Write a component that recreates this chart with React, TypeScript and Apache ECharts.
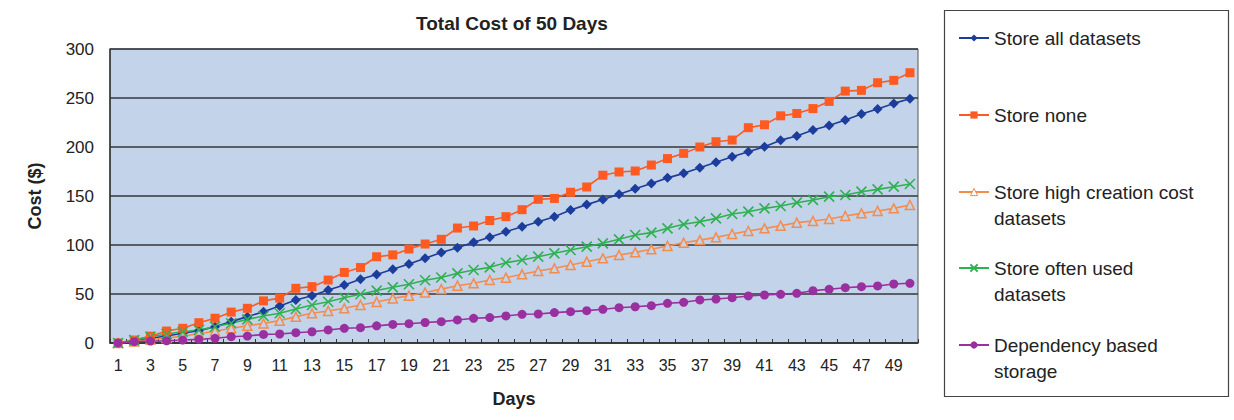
import React, { useEffect, useRef } from "react";
import * as echarts from "echarts";

// Day numbers along the x axis
const days = [
  "1", "2", "3", "4", "5", "6", "7", "8", "9", "10",
  "11", "12", "13", "14", "15", "16", "17", "18", "19", "20",
  "21", "22", "23", "24", "25", "26", "27", "28", "29", "30",
  "31", "32", "33", "34", "35", "36", "37", "38", "39", "40",
  "41", "42", "43", "44", "45", "46", "47", "48", "49", "50",
];

// Accumulated cost ($) per strategy
const storeAll = [
  0, 2, 4.8, 7.1, 10, 12.6, 16.6, 21.8, 26.9, 32,
  37.8, 43.9, 48.3, 54.1, 59.2, 65, 70, 75.2, 80.5, 86.5,
  92.3, 97.3, 102.7, 107.8, 113.6, 118.7, 123.8, 128.9, 135.7, 141.2,
  146.5, 151.7, 157.5, 162.8, 168.5, 173.1, 178.9, 184.4, 190.1, 195.2,
  200.3, 207, 211.2, 217.3, 222, 227.6, 233.7, 238.8, 244.5, 249.3,
];

const storeNone = [
  0, 3, 7, 12.2, 15, 20.7, 25.3, 31.5, 35.4, 43,
  45.8, 55.8, 57.5, 64.2, 72, 77, 88, 89.9, 95.9, 101,
  105.8, 117.3, 119.4, 125, 128.9, 136, 146.6, 147.5, 153.8, 159.2,
  171.2, 174.5, 175.5, 181.6, 188.2, 193.5, 200, 205.4, 207.1, 219.7,
  222.7, 231.8, 234.2, 239.2, 246.5, 257, 257.8, 265.6, 268, 275.8,
];

const storeHighCost = [
  0, 1.5, 3.5, 5, 7, 9.5, 12, 15, 17.5, 20,
  22.8, 26.9, 30.3, 32.7, 35.4, 38.8, 41.8, 45.5, 48.2, 51.5,
  55, 58.5, 60.9, 64.3, 66.7, 70.1, 73.5, 76.2, 79.6, 83,
  86.4, 89.8, 92.5, 95.6, 99, 102.3, 105, 107.8, 111.2, 114.3,
  117, 119.7, 122.8, 124.5, 126.5, 129.6, 132.3, 134.7, 137.4, 140.8,
];

const storeOftenUsed = [
  0, 3, 6.4, 9.2, 11.5, 13.3, 16.6, 20.1, 24.1, 27.5,
  30.3, 34.7, 38.8, 42.1, 46.2, 49.7, 53.5, 56.8, 60, 64,
  66.8, 71.1, 74.5, 77.2, 81.9, 84.7, 88.1, 91.5, 94.9, 98.3,
  101.7, 105.8, 110.2, 112.6, 117, 121.1, 123.8, 127.2, 131.6, 134,
  137.4, 139.8, 143.2, 146, 149.3, 151, 154.4, 156.8, 159.5, 162.2,
];

const dependencyBased = [
  0, 1.4, 2, 2.2, 3, 3.7, 4.8, 6.4, 7.1, 8.8,
  9.2, 10.5, 11.5, 13.3, 15, 15.6, 17.5, 19, 19.7, 20.9,
  21.8, 23.5, 25.2, 25.9, 27.6, 29.3, 29.6, 31, 32, 33,
  34.4, 36, 37, 38.1, 40.5, 41.5, 43.9, 44.9, 46.2, 48,
  49, 49.7, 50.7, 53.4, 54.8, 56.4, 57.5, 58.2, 60.2, 60.9,
];

const yTicks = [0, 50, 100, 150, 200, 250, 300];

const FONT = "'Liberation Sans', Arial, Helvetica, sans-serif";
const PLOT_BG = "#c3d3e9";
const TEXT = "#222222";

const BLUE = "#1c3d9b";
const RED = "#ff5a22";
const ORANGE = "#f68c4c";
const GREEN = "#2fb152";
const PURPLE = "#9a2f9f";

const CROSS = "path://M0,0L10,10M10,0L0,10";

type Entry = {
  name: string;
  label: string[];
  data: number[];
  color: string;
  symbol: string;
  symbolSize: number;
  itemStyle: Record<string, unknown>;
  legendItemStyle?: Record<string, unknown>;
  iconY: number;
};

const entries: Entry[] = [
  {
    name: "Store all datasets",
    label: ["Store all datasets"],
    data: storeAll,
    color: BLUE,
    symbol: "diamond",
    symbolSize: 10,
    itemStyle: { color: BLUE },
    iconY: 38,
  },
  {
    name: "Store none",
    label: ["Store none"],
    data: storeNone,
    color: RED,
    symbol: "rect",
    symbolSize: 9,
    itemStyle: { color: RED },
    iconY: 115,
  },
  {
    name: "Store high creation cost datasets",
    label: ["Store high creation cost", "datasets"],
    data: storeHighCost,
    color: ORANGE,
    symbol: "triangle",
    symbolSize: 9,
    itemStyle: { color: PLOT_BG, borderColor: ORANGE, borderWidth: 1.5 },
    legendItemStyle: { color: "#ffffff", borderColor: ORANGE, borderWidth: 1 },
    iconY: 192,
  },
  {
    name: "Store often used datasets",
    label: ["Store often used", "datasets"],
    data: storeOftenUsed,
    color: GREEN,
    symbol: CROSS,
    symbolSize: 10,
    itemStyle: { color: GREEN, borderColor: GREEN, borderWidth: 1.6 },
    iconY: 268,
  },
  {
    name: "Dependency based storage",
    label: ["Dependency based", "storage"],
    data: dependencyBased,
    color: PURPLE,
    symbol: "circle",
    symbolSize: 9,
    itemStyle: { color: PURPLE },
    iconY: 345,
  },
];

const LEGEND_LINE = 26;

export default function App() {
  const ref = useRef<HTMLDivElement>(null);

  useEffect(() => {
    if (!ref.current) return;
    const chart = echarts.init(ref.current, undefined, { renderer: "svg" });

    const legends = entries.map((e) => {
      const multi = e.label.length > 1;
      // a leading blank line keeps the icon level with the first text line
      const text = multi ? "\n" + e.label.join("\n") : e.label[0];
      const top = multi ? e.iconY - LEGEND_LINE * 1.5 : e.iconY - LEGEND_LINE / 2;
      const legend: Record<string, unknown> = {
        show: true,
        left: 958,
        top,
        padding: 0,
        orient: "vertical",
        data: [e.name],
        itemWidth: 30,
        itemHeight: 9,
        selectedMode: false,
        formatter: () => text,
        textStyle: {
          fontFamily: FONT,
          fontSize: 19,
          lineHeight: LEGEND_LINE,
          color: TEXT,
        },
      };
      if (e.legendItemStyle) legend.itemStyle = e.legendItemStyle;
      return legend;
    });

    chart.setOption({
      animation: false,
      backgroundColor: "#ffffff",
      textStyle: { fontFamily: FONT },
      title: {
        text: "Total Cost of 50 Days",
        left: 416,
        top: 14,
        padding: 0,
        textStyle: {
          fontFamily: FONT,
          fontSize: 19,
          fontWeight: "bold",
          color: TEXT,
        },
      },
      graphic: [
        {
          type: "rect",
          shape: { x: 944.5, y: 10.5, width: 284, height: 386 },
          style: { fill: "#ffffff", stroke: "#444444", lineWidth: 1.2 },
          z: 0,
        },
      ],
      legend: legends,
      grid: {
        left: 110,
        right: 316,
        top: 49,
        bottom: 77,
        show: true,
        backgroundColor: PLOT_BG,
        borderColor: "#555555",
        borderWidth: 1,
      },
      xAxis: {
        type: "category",
        data: days,
        boundaryGap: true,
        axisLine: { lineStyle: { color: "#333333", width: 1.5 } },
        axisTick: {
          show: true,
          inside: true,
          length: 4,
          interval: 0,
          lineStyle: { color: "#333333" },
        },
        axisLabel: {
          interval: 1,
          fontSize: 16,
          color: TEXT,
          margin: 14,
          fontFamily: FONT,
        },
        name: "Days",
        nameLocation: "middle",
        nameGap: 47,
        nameTextStyle: {
          fontFamily: FONT,
          fontSize: 18,
          fontWeight: "bold",
          color: TEXT,
        },
      },
      yAxis: {
        type: "value",
        min: yTicks[0],
        max: yTicks[yTicks.length - 1],
        interval: yTicks[1] - yTicks[0],
        axisLine: { show: true, lineStyle: { color: "#333333", width: 1.5 } },
        axisTick: { show: false },
        splitLine: { show: true, lineStyle: { color: "#33373c", width: 1.5 } },
        axisLabel: {
          fontSize: 17,
          color: TEXT,
          margin: 16,
          fontFamily: FONT,
        },
        name: "Cost ($)",
        nameLocation: "middle",
        nameGap: 66,
        nameRotate: 90,
        nameTextStyle: {
          fontFamily: FONT,
          fontSize: 18,
          fontWeight: "bold",
          color: TEXT,
        },
      },
      series: entries.map((e) => ({
        name: e.name,
        type: "line",
        data: e.data,
        color: e.color,
        symbol: e.symbol,
        symbolSize: e.symbolSize,
        showAllSymbol: true,
        lineStyle: { color: e.color, width: 1.6 },
        itemStyle: e.itemStyle,
        emphasis: { disabled: true },
      })),
    });

    return () => chart.dispose();
  }, []);

  return (
    <div
      ref={ref}
      style={{ position: "fixed", left: 0, top: 0, width: 1234, height: 420 }}
    />
  );
}
